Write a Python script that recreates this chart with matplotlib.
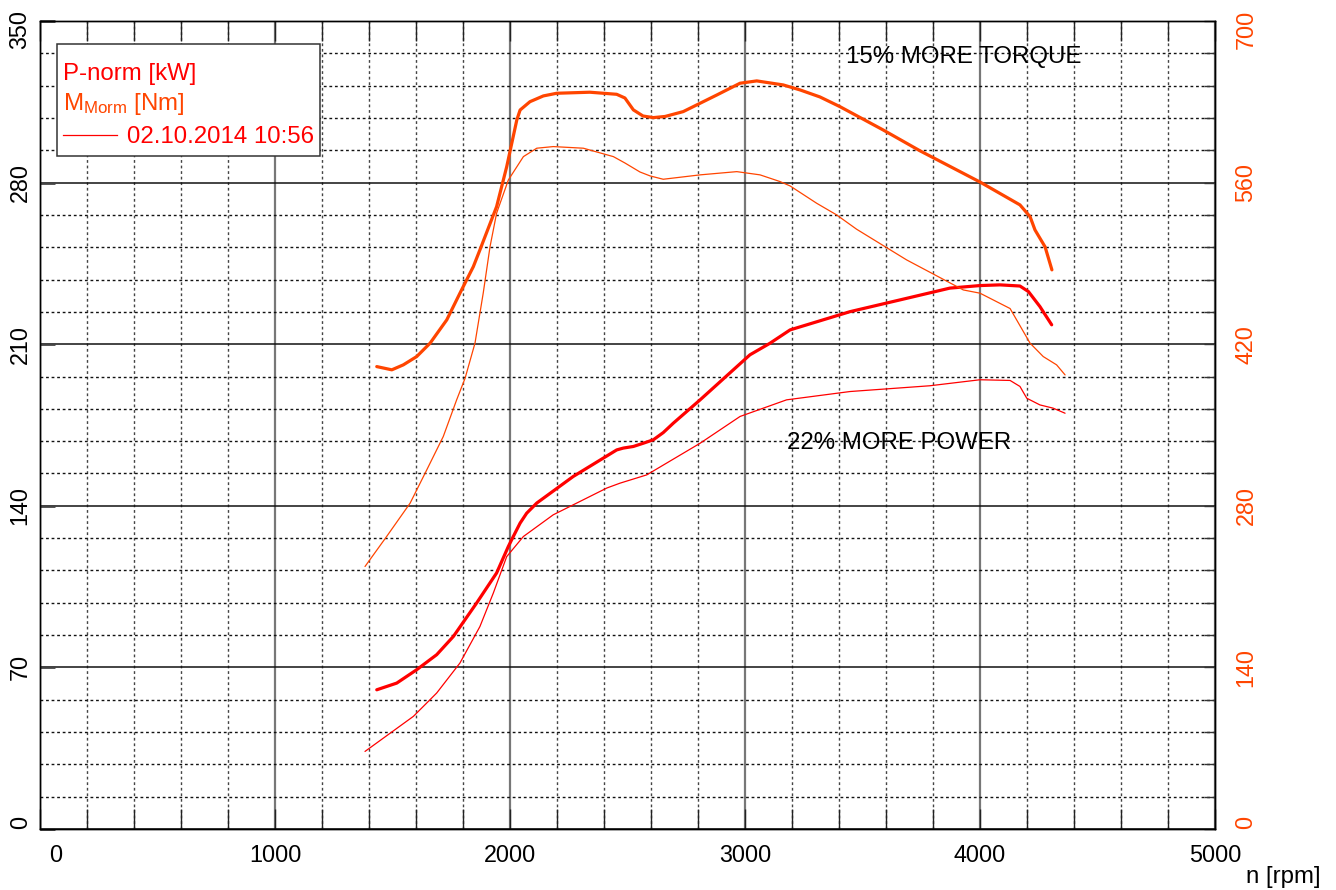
import matplotlib
matplotlib.use("Agg")
import matplotlib.pyplot as plt
from matplotlib.ticker import MultipleLocator
from matplotlib.patches import Rectangle
import matplotlib.transforms as mtransforms

plt.rcParams['font.family'] = ['Liberation Sans', 'DejaVu Sans']
plt.rcParams['mathtext.default'] = 'regular'

# ---------------- data ----------------
# thick = tuned, thin = stock
torque_tuned_rpm = [1433, 1497, 1546, 1603, 1660, 1731, 1787, 1844, 1872, 1943, 1986, 2029, 2043,
                    2085, 2142, 2199, 2340, 2454, 2489, 2525, 2566, 2610, 2660, 2737, 2880, 2979,
                    3050, 3163, 3234, 3319, 3404, 3587, 3745, 4000, 4170, 4213, 4234, 4277, 4306]
torque_tuned_nm = [400.6, 397.8, 402.1, 409.3, 420.9, 441.1, 464.2, 487.2, 501.7, 539.2, 573.8, 614.3, 622.9,
                   630.1, 635.1, 637.4, 638.3, 636.5, 633.3, 623.0, 617.7, 616.3, 617.3, 621.5, 635.9, 646.1,
                   648.1, 644.6, 640.3, 634.2, 625.8, 605.7, 587.5, 560.5, 540.7, 530.5, 519.0, 504.3, 484.4]

torque_stock_rpm = [1383, 1475, 1575, 1646, 1716, 1773, 1809, 1851, 1886, 1915, 1943, 1993, 2057,
                    2114, 2184, 2312, 2440, 2489, 2553, 2596, 2652, 2809, 2965, 3064, 3149, 3192,
                    3305, 3390, 3475, 3688, 3929, 4000, 4128, 4213, 4269, 4326, 4362]
torque_stock_nm = [227.4, 253.4, 282.3, 311.2, 340.0, 371.8, 390.6, 420.9, 464.2, 504.5, 533.5, 562.3, 582.5,
                   589.8, 591.2, 589.8, 582.5, 577.0, 569.2, 565.8, 562.9, 566.7, 569.5, 566.7, 560.9, 557.1,
                   542.1, 532.0, 519.6, 493.0, 467.0, 464.2, 450.9, 420.9, 409.3, 402.1, 393.4]

power_tuned_rpm = [1433, 1518, 1603, 1688, 1759, 1858, 1943, 1993, 2014, 2043, 2071, 2114, 2269, 2454, 2482,
                   2525, 2567, 2610, 2652, 2695, 2809, 3021, 3106, 3192, 3447, 3660, 3872, 4000,
                   4085, 4170, 4206, 4255, 4305]
power_tuned_kw = [60.3, 63.2, 69.0, 75.5, 83.4, 97.9, 110.9, 122.4, 126.7, 132.5, 136.8, 141.2, 152.7, 164.2, 165.0,
                  165.7, 167.1, 168.6, 171.7, 175.8, 185.9, 205.4, 210.4, 216.2, 224.1, 229.2, 234.3, 235.4,
                  235.7, 235.2, 232.8, 226.3, 218.4]

power_stock_rpm = [1383, 1589, 1688, 1787, 1872, 1929, 1986, 2057, 2184, 2412, 2468, 2582, 2809,
                   2979, 3177, 3447, 3787, 4000, 4128, 4170, 4199, 4255, 4311, 4362]
power_stock_kw = [33.6, 48.8, 58.9, 71.9, 87.7, 102.2, 118.0, 126.7, 136.1, 147.7, 149.8, 153.4, 167.1,
                  178.7, 185.9, 189.5, 192.0, 194.6, 194.3, 191.7, 186.6, 183.7, 182.3, 180.1]

x_ticks = [0, 1000, 2000, 3000, 4000, 5000]
p_ticks = [0, 70, 140, 210, 280, 350]
m_ticks = [0, 140, 280, 420, 560, 700]

RED = '#FF0000'
ORANGE = '#FF4500'
W, H = 1336, 890
FS = 16.8
FS_T = 17.3

fig = plt.figure(figsize=(W / 100, H / 100), dpi=100)
ax = fig.add_axes([40 / W, 1 - 829 / H, 1175 / W, 808 / H])
ax2 = ax.twinx()

ax.set_xlim(0, 5000)
ax.set_ylim(0, 350)
ax2.set_ylim(0, 700)

# grid
ax.xaxis.set_major_locator(MultipleLocator(1000))
ax.xaxis.set_minor_locator(MultipleLocator(200))
ax.yaxis.set_major_locator(MultipleLocator(70))
ax.yaxis.set_minor_locator(MultipleLocator(14))
ax.set_axisbelow(True)
ax.xaxis.grid(True, which='major', color='#777777', lw=1.6)
ax.yaxis.grid(True, which='major', color='#111111', lw=1.1)
ax.xaxis.grid(True, which='minor', color='#444444', lw=1.0, ls=(0, (2, 2)))
ax.yaxis.grid(True, which='minor', color='#111111', lw=1.0, ls=(0, (2, 2)))

# curves
ax.plot(power_stock_rpm, power_stock_kw, color=RED, lw=0.9, solid_capstyle='round', solid_joinstyle='round')
ax.plot(power_tuned_rpm, power_tuned_kw, color=RED, lw=2.3, solid_capstyle='round', solid_joinstyle='round')
ax2.plot(torque_stock_rpm, torque_stock_nm, color=ORANGE, lw=0.9, solid_capstyle='round', solid_joinstyle='round')
ax2.plot(torque_tuned_rpm, torque_tuned_nm, color=ORANGE, lw=2.3, solid_capstyle='round', solid_joinstyle='round')

# ticks
ax.set_xticks(x_ticks, [str(v) for v in x_ticks], fontsize=FS)
ax.tick_params(axis='x', which='both', direction='in', length=14.5, width=1.0,
               top=True, pad=11, colors='#222222', labelcolor='black')
ax.set_yticks(p_ticks, [str(v) for v in p_ticks], fontsize=FS, rotation=90, va='center')
ax.tick_params(axis='y', which='major', direction='in', length=11, width=2.0,
               right=False, pad=6, colors='#444444', labelcolor='black')
ax.tick_params(axis='y', which='minor', length=0)

ax2.set_yticks(m_ticks, [str(v) for v in m_ticks], fontsize=FS, rotation=90, va='center')
ax2.yaxis.set_minor_locator(MultipleLocator(28))
ax2.tick_params(axis='y', which='both', direction='in', length=8, width=1.0,
                pad=14, colors='#333333', labelcolor=ORANGE)

for lbls in (ax.get_yticklabels(), ax2.get_yticklabels()):
    lbls[0].set_va('bottom')
    lbls[-1].set_va('top')
    lbls[-1].set_transform(lbls[-1].get_transform() +
                           mtransforms.ScaledTranslation(0, 11 / 100, fig.dpi_scale_trans))
xl0 = ax.get_xticklabels()[0]
xl0.set_transform(xl0.get_transform() + mtransforms.ScaledTranslation(16 / 100, 0, fig.dpi_scale_trans))

for sp in list(ax.spines.values()) + list(ax2.spines.values()):
    sp.set_color('black')
    sp.set_linewidth(1.0)

# annotations
def fx(px):
    return px / W

def fy(py):
    return 1 - py / H

fig.text(fx(846), fy(57), '15% MORE TORQUE', fontsize=FS_T, ha='left', va='center', color='black')
fig.text(fx(787), fy(443), '22% MORE POWER', fontsize=FS_T, ha='left', va='center', color='black')
fig.text(fx(1283), fy(877), 'n [rpm]', fontsize=FS_T, ha='center', va='center', color='black')

# legend box
box = Rectangle((fx(57), fy(156)), (320 - 57) / W, (156 - 44) / H, transform=fig.transFigure,
                facecolor='white', edgecolor='#333333', lw=1.1, zorder=5)
fig.add_artist(box)
fig.text(fx(63), fy(80), 'P-norm [kW]', fontsize=FS_T, color=RED, va='baseline', zorder=6)
fig.text(fx(63), fy(110), r'M$_{Morm}$ [Nm]', fontsize=FS_T, color=ORANGE, va='baseline', zorder=6)
fig.add_artist(plt.Line2D([fx(63), fx(117)], [fy(135), fy(135)], transform=fig.transFigure,
                          color=RED, lw=0.9, zorder=6))
fig.text(fx(127), fy(143), '02.10.2014 10:56', fontsize=FS_T, color=RED, va='baseline', zorder=6)

fig.savefig('out.png', dpi=100)
